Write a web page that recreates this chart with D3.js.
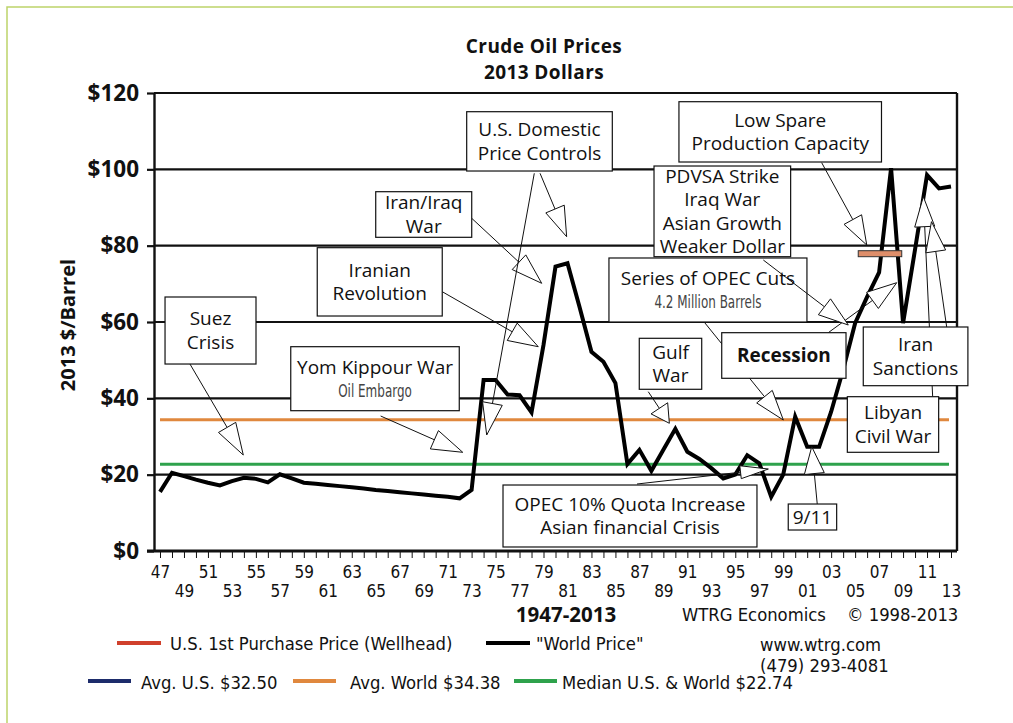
<!DOCTYPE html>
<html>
<head>
<meta charset="utf-8">
<script src="https://cdn.jsdelivr.net/npm/d3@7"></script>
<style>
  body { margin: 0; background: #fff; }
  svg { display: block; }
</style>
</head>
<body>
<div id="chart"></div>
<script>
/* DATA *******************************************************************/

const years = [1947, 1948, 1949, 1950, 1951, 1952, 1953, 1954, 1955, 1956,
  1957, 1958, 1959, 1960, 1961, 1962, 1963, 1964, 1965, 1966,
  1967, 1968, 1969, 1970, 1971, 1972, 1973, 1974, 1975, 1976,
  1977, 1978, 1979, 1980, 1981, 1982, 1983, 1984, 1985, 1986,
  1987, 1988, 1989, 1990, 1991, 1992, 1993, 1994, 1995, 1996,
  1997, 1998, 1999, 2000, 2001, 2002, 2003, 2004, 2005, 2006,
  2007, 2008, 2009, 2010, 2011, 2012, 2013];

// "World Price", 2013 dollars per barrel
const worldPrice = [15.5, 20.5, 19.6, 18.7, 17.9, 17.2, 18.3, 19.2, 18.9, 18.0,
  20.1, 19.0, 17.9, 17.6, 17.3, 17.0, 16.7, 16.4, 16.0, 15.7,
  15.4, 15.1, 14.8, 14.5, 14.2, 13.8, 16.0, 44.8, 44.8, 41.0,
  40.8, 36.3, 54.0, 74.5, 75.4, 64.0, 52.2, 49.6, 44.0, 22.8,
  26.5, 21.0, 26.5, 32.0, 26.0, 24.1, 21.7, 19.0, 20.0, 25.1,
  23.0, 14.2, 20.0, 35.2, 27.3, 27.3, 36.5, 47.5, 59.7, 66.6,
  73.0, 100.3, 59.7, 79.0, 98.5, 95.0, 95.5];

const refValues = [34.38, 22.74];            // avg world, median U.S. & world
const refColors = ["#e0883e", "#2ea24c"];

const yTicks = [0, 20, 40, 60, 80, 100, 120];

const legendRow1 = ["U.S. 1st Purchase Price (Wellhead)", "\"World Price\""];
const legendRow1Colors = ["#d0402c", "#000"];
const legendRow2 = ["Avg. U.S. $32.50", "Avg. World $34.38", "Median U.S. & World $22.74"];
const legendRow2Colors = ["#1d2c6b", "#e0883e", "#2ea24c"];

// annotation boxes: box = [year0, year1, topPrice, bottomPrice]
// arrows = [tailYear, tailPrice, tipYear, tipPrice, headLength, headWidth]
const notes = [
  { lines: ["Suez", "Crisis"], box: [1947.42, 1955.01, 66.55, 48.99],
    arrows: [[1949.5, 48.99, 1953.95, 25.15, 32]] },
  { lines: ["Yom Kippour War"], sub: "Oil Embargo", box: [1957.91, 1971.97, 53.53, 36.76],
    arrows: [[1965.41, 35.37, 1972.26, 25.86, 31]] },
  { lines: ["Iranian", "Revolution"], box: [1960.12, 1970.55, 79.47, 61.57],
    arrows: [[1970.55, 67.94, 1978.56, 53.53, 30]] },
  { lines: ["Iran/Iraq", "War"], box: [1965.0, 1973.01, 94.14, 82.19],
    arrows: [[1973.01, 87.17, 1978.85, 70.14, 31]] },
  { lines: ["U.S. Domestic", "Price Controls"], box: [1972.59, 1984.74, 115.1, 99.56],
    arrows: [[1978.23, 98.96, 1974.26, 30.39, 32], [1978.71, 98.96, 1980.93, 82.35, 30]] },
  { lines: ["Gulf", "War"], box: [1986.99, 1992.2, 55.73, 42.37],
    arrows: [[1987.74, 41.74, 1989.5, 33.46, 18]] },
  { lines: ["OPEC 10% Quota Increase", "Asian financial Crisis"], box: [1975.62, 1996.81, 17.29, 1.05],
    arrows: [[1986.8, 17.55, 1997.76, 21.48, 28, 13]] },
  { lines: ["9/11"], box: [1999.42, 2003.46, 12.31, 5.5],
    arrows: [[2001.84, 12.31, 2001.38, 27.33, 27]] },
  { lines: ["Series of OPEC Cuts"], sub: "4.2 Million Barrels", box: [1984.46, 2000.98, 76.77, 60.0],
    arrows: [[1992.47, 59.74, 1999.01, 34.32, 30]] },
  { lines: ["Recession"], bold: true, box: [1993.87, 2004.24, 57.2, 45.25],
    arrows: [[2002.76, 57.2, 2008.47, 70.3, 30]] },
  { lines: ["PDVSA Strike", "Iraq War", "Asian Growth", "Weaker Dollar"], box: [1988.22, 1999.62, 100.87, 77.11],
    arrows: [[1997.34, 76.24, 2004.43, 59.21, 30]] },
  { lines: ["Low Spare", "Production Capacity"], box: [1990.3, 2007.2, 117.72, 101.92],
    arrows: [[2002.21, 101.74, 2005.97, 80.17, 29]] },
  { lines: ["Libyan", "Civil War"], box: [2004.35, 2011.97, 40.43, 25.86],
    arrows: [[2011.47, 40.43, 2010.69, 92.83, 30]] },
  { lines: ["Iran", "Sanctions"], box: [2005.68, 2014.41, 58.69, 43.31],
    arrows: [[2012.64, 58.69, 2011.37, 86.28, 30]] }
];

// spare production capacity marker [year0, year1, top, bottom]
const spareBar = [2005.26, 2008.89, 78.68, 77.11];

/* SETTINGS ***************************************************************/

const width = 1013, height = 723;
const frameL = 154, frameR = 957;
const fontMain = "'Open Sans', 'Noto Sans', sans-serif";
const fontNarrow = "'DejaVu Sans Condensed', 'Liberation Sans Narrow', sans-serif";
const ink = "#111";

/* CHART ******************************************************************/

const svg = d3.select("#chart").append("svg")
  .attr("width", width)
  .attr("height", height);

// thin green page border (top + left)
svg.append("path")
  .attr("d", `M7,${height} V7 H${width}`)
  .attr("fill", "none")
  .attr("stroke", "#bdd46a")
  .attr("stroke-width", 1.5);

const x = d3.scaleLinear().domain([1947, 2013]).range([160, 951]);
const y = d3.scaleLinear().domain([0, 120]).range([551, 93]);

// titles
[["Crude Oil Prices", 46], ["2013 Dollars", 72]].forEach(t => {
  svg.append("text")
    .attr("x", 544).attr("y", t[1]).attr("dy", "0.35em")
    .attr("text-anchor", "middle")
    .attr("font-family", fontMain).attr("font-weight", 700).attr("font-size", 19)
    .attr("letter-spacing", 0.4)
    .attr("fill", ink)
    .text(t[0]);
});

// y axis title
svg.append("text")
  .attr("transform", "translate(68,325) rotate(-90)")
  .attr("dy", "0.35em")
  .attr("text-anchor", "middle")
  .attr("font-family", fontMain).attr("font-weight", 700).attr("font-size", 20)
  .attr("fill", ink)
  .text("2013 $/Barrel");

// horizontal gridlines
svg.append("g").selectAll("line")
  .data(yTicks.filter(d => d > 0))
  .join("line")
  .attr("x1", frameL).attr("x2", frameR)
  .attr("y1", d => y(d)).attr("y2", d => y(d))
  .attr("stroke", ink).attr("stroke-width", 2.2);

// right frame
svg.append("line")
  .attr("x1", frameR).attr("x2", frameR)
  .attr("y1", y(120)).attr("y2", y(0))
  .attr("stroke", ink).attr("stroke-width", 2.4);

// y axis
const yAxis = svg.append("g")
  .attr("transform", `translate(${frameL},0)`)
  .call(d3.axisLeft(y).tickValues(yTicks).tickSize(7).tickSizeOuter(0).tickPadding(8)
    .tickFormat(d => "$" + d));
yAxis.select(".domain").attr("stroke", ink).attr("stroke-width", 2.4);
yAxis.selectAll(".tick line").attr("stroke", ink).attr("stroke-width", 2.2);
yAxis.selectAll(".tick text")
  .attr("font-family", fontMain).attr("font-weight", 700).attr("font-size", 22.5)
  .attr("fill", ink);

// x axis (a tick every year, labels every 2nd year on two rows)
const xAxis = svg.append("g")
  .attr("transform", `translate(0,${y(0)})`)
  .call(d3.axisBottom(x).tickValues(years).tickSize(7).tickSizeOuter(0)
    .tickFormat(d => (d - 1947) % 2 === 0 ? String(d).slice(2) : ""));
xAxis.select(".domain").remove();
xAxis.selectAll(".tick line").attr("stroke", ink).attr("stroke-width", 1);
xAxis.selectAll(".tick text")
  .attr("y", d => (d - 1947) % 4 === 0 ? 21 : 40)
  .attr("dy", "0.35em")
  .attr("font-family", fontNarrow).attr("font-size", 17)
  .attr("fill", ink);
svg.append("line")
  .attr("x1", 147).attr("x2", frameR)
  .attr("y1", y(0)).attr("y2", y(0))
  .attr("stroke", ink).attr("stroke-width", 3);

// average / median lines
svg.append("g").selectAll("line")
  .data(refValues)
  .join("line")
  .attr("x1", x(1947)).attr("x2", x(2013) - 2)
  .attr("y1", d => y(d)).attr("y2", d => y(d))
  .attr("stroke", (d, i) => refColors[i]).attr("stroke-width", 3);

// world price line
const line = d3.line()
  .x((d, i) => x(years[i]))
  .y(d => y(d));
svg.append("path")
  .datum(worldPrice)
  .attr("d", line)
  .attr("fill", "none")
  .attr("stroke", "#000")
  .attr("stroke-width", 4)
  .attr("stroke-linejoin", "miter");

// annotations: arrows first, then the box on top
const noteLayer = svg.append("g");

function drawArrow(g, a) {
  const x1 = x(a[0]), y1 = y(a[1]), x2 = x(a[2]), y2 = y(a[3]);
  const headLen = a[4], headW = a[5] || 20;
  const L = Math.hypot(x2 - x1, y2 - y1), ux = (x2 - x1) / L, uy = (y2 - y1) / L;
  const bx = x2 - ux * headLen, by = y2 - uy * headLen;
  const px = -uy * headW / 2, py = ux * headW / 2;
  g.append("line")
    .attr("x1", x1).attr("y1", y1).attr("x2", bx).attr("y2", by)
    .attr("stroke", ink).attr("stroke-width", 1);
  g.append("path")
    .attr("d", `M${x2},${y2}L${bx + px},${by + py}L${bx - px},${by - py}Z`)
    .attr("fill", "#fff").attr("stroke", ink).attr("stroke-width", 1);
}

function drawBox(g, n) {
  const x0 = x(n.box[0]), x1 = x(n.box[1]), y0 = y(n.box[2]), y1 = y(n.box[3]);
  g.append("rect")
    .attr("x", x0).attr("y", y0)
    .attr("width", x1 - x0).attr("height", y1 - y0)
    .attr("fill", "#fff").attr("stroke", ink).attr("stroke-width", 1.2);
  const rows = n.lines.map(t => ({ t: t, sub: false }));
  if (n.sub) rows.push({ t: n.sub, sub: true });
  const cx = (x0 + x1) / 2, cy = (y0 + y1) / 2, lh = 23.5;
  rows.forEach((r, i) => {
    const ty = cy + (i - (rows.length - 1) / 2) * lh;
    g.append("text")
      // condensed sub-lines get squeezed sideways like the original type
      .attr("transform", `translate(${cx},${ty}) scale(${r.sub ? 0.72 : 1},1)`)
      .attr("dy", "0.35em")
      .attr("text-anchor", "middle")
      .attr("font-family", r.sub ? fontNarrow : fontMain)
      .attr("font-size", r.sub ? 18.5 : 19)
      .attr("font-weight", n.bold ? 700 : 400)
      .attr("fill", r.sub ? "#444" : ink)
      .text(r.t);
  });
}

notes.forEach(n => {
  n.arrows.forEach(a => drawArrow(noteLayer, a));
  drawBox(noteLayer, n);
});

// spare capacity marker
svg.append("rect")
  .attr("x", x(spareBar[0])).attr("y", y(spareBar[2]))
  .attr("width", x(spareBar[1]) - x(spareBar[0]))
  .attr("height", y(spareBar[3]) - y(spareBar[2]))
  .attr("fill", "#de8e6a").attr("stroke", "#333").attr("stroke-width", 1);

/* FOOTER / LEGEND ********************************************************/

function footText(tx, ty, t, opts) {
  opts = opts || {};
  svg.append("text")
    .attr("x", tx).attr("y", ty).attr("dy", "0.35em")
    .attr("text-anchor", opts.anchor || "start")
    .attr("font-family", opts.bold ? fontMain : fontNarrow)
    .attr("font-weight", opts.bold ? 700 : 400)
    .attr("font-size", opts.size || 18.3)
    .attr("fill", ink)
    .text(t);
}

footText(566, 615, "1947-2013", { bold: true, anchor: "middle", size: 20.5 });
footText(682, 615, "WTRG Economics");
footText(847, 615, "\u00a9 1998-2013");

const row1X = [117, 486], row1TextX = [170, 536];
legendRow1.forEach((t, i) => {
  svg.append("line")
    .attr("x1", row1X[i]).attr("x2", row1X[i] + 44)
    .attr("y1", 643).attr("y2", 643)
    .attr("stroke", legendRow1Colors[i]).attr("stroke-width", 4);
  footText(row1TextX[i], 644, t);
});
footText(760, 645, "www.wtrg.com");
footText(760, 666, "(479) 293-4081");

const row2X = [88, 293, 514], row2TextX = [141, 350, 562];
legendRow2.forEach((t, i) => {
  svg.append("line")
    .attr("x1", row2X[i]).attr("x2", row2X[i] + 43)
    .attr("y1", 681).attr("y2", 681)
    .attr("stroke", legendRow2Colors[i]).attr("stroke-width", 4);
  footText(row2TextX[i], 683, t);
});
</script>
</body>
</html>
